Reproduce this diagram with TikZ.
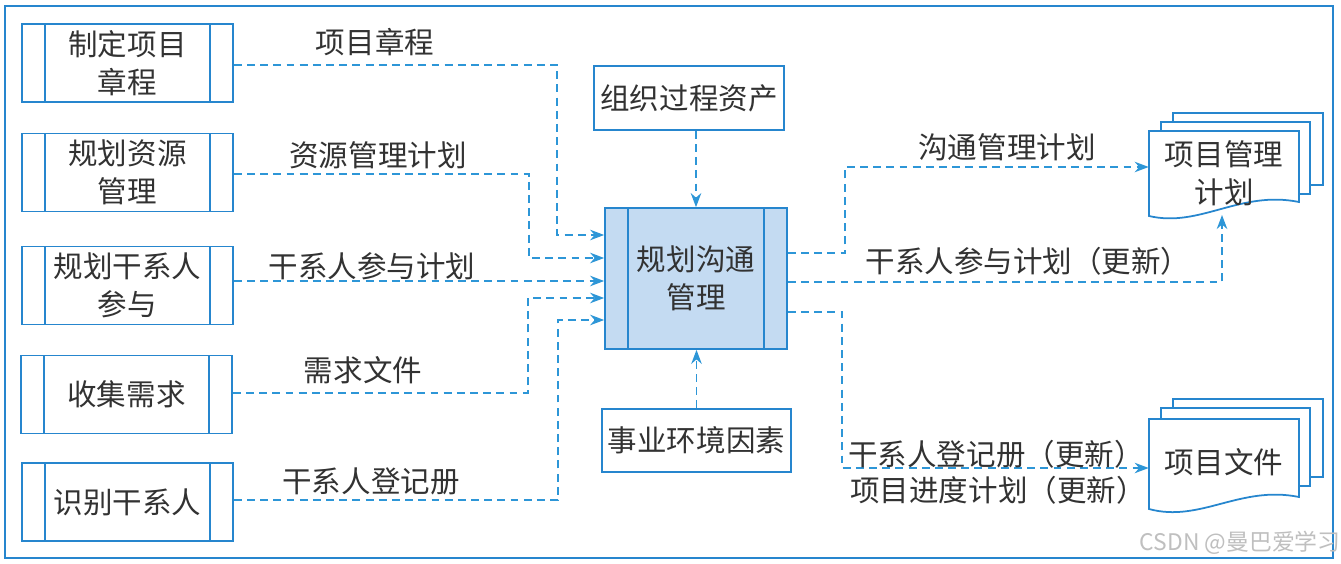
\documentclass[tikz,border=0pt]{standalone}
\usepackage{fontspec}
\setmainfont{Noto Sans CJK SC}
\usetikzlibrary{arrows.meta,calc}
\definecolor{boxblue}{RGB}{38,134,206}
\definecolor{lineblue}{RGB}{45,150,215}
\definecolor{cfill}{RGB}{196,219,242}
\definecolor{txt}{RGB}{50,50,50}
\begin{document}
\begin{tikzpicture}[x=0.02cm,y=-0.02cm,
  font=\fontsize{16.8}{21.5}\selectfont, text=txt,
  box/.style={draw=boxblue,line width=1pt,fill=white,align=center,inner sep=0pt},
  sidelines/.style={path picture={\draw[boxblue,line width=1pt]
     ([xshift=0.46cm]path picture bounding box.north west) -- ([xshift=0.46cm]path picture bounding box.south west)
     ([xshift=-0.46cm]path picture bounding box.north east) -- ([xshift=-0.46cm]path picture bounding box.south east);}},
  proc/.style={box,sidelines,minimum width=4.22cm,minimum height=1.56cm},
  flow/.style={draw=lineblue,line width=0.8pt,dash pattern=on 4.5pt off 3pt,-{Stealth[length=8pt,width=6pt]}},
  doc/.style={draw=boxblue,line width=1pt,fill=white},
  lab/.style={inner sep=0pt}]
\useasboundingbox (0,0) rectangle (1341,564);
\fill[white] (0,0) rectangle (1341,564);
\draw[boxblue,line width=1pt] (5,6) rectangle (1333,558);

% left process boxes
\node[proc] (b1) at (127.5,63) {制定项目\\章程};
\node[proc] (b2) at (127.5,172.5) {规划资源\\管理};
\node[proc] (b3) at (127.5,285.5) {规划干系人\\参与};
\node[proc] (b4) at (126.5,394.5) {收集需求};
\node[proc] (b5) at (127.5,502) {识别干系人};

% centre process
\node[box,sidelines,fill=cfill,minimum width=3.64cm,minimum height=2.82cm] (c) at (696,278.5) {规划沟通\\管理};

% top / bottom inputs
\node[box,minimum width=3.8cm,minimum height=1.28cm] (opa) at (689,98) {组织过程资产};
\node[box,minimum width=3.78cm,minimum height=1.26cm] (eef) at (696.5,440.5) {事业环境因素};

% output documents
\draw[doc] (1173,113) rectangle (1323,185);
\draw[doc] (1161,122) rectangle (1310,194);
\draw[doc] (1149,131) -- (1299,131) -- (1299,202) .. controls (1240,190) and (1200,228) .. (1149,216) -- cycle;
\node[lab,align=center,minimum width=3cm,minimum height=1.7cm] (pmp) at (1224,173.5) {项目管理\\计划};

\draw[doc] (1173,399) rectangle (1323,477);
\draw[doc] (1161,408) rectangle (1310,486);
\draw[doc] (1149,419) -- (1299,419) -- (1299,497) .. controls (1240,485) and (1200,523) .. (1149,509) -- cycle;
\node[lab,minimum width=3cm,minimum height=1.8cm] (pd) at (1224,462) {项目文件};

% input flows
\draw[flow] (b1.east|-0,65) -| (557,235) -- (c.west|-0,235);
\draw[flow] (b2.east|-0,174) -| (529,258) -- (c.west|-0,258);
\draw[flow] (b3.east|-0,281) -- (c.west|-0,281);
\draw[flow] (b4.east|-0,393) -| (528,298) -- (c.west|-0,298);
\draw[flow] (b5.east|-0,500) -| (558,320) -- (c.west|-0,320);
\draw[flow] (c.north|-opa.south) -- (c.north);
\draw[flow] (eef.north) -- (eef.north|-c.south);

% output flows
\draw[flow] (c.east|-0,253) -| (845,167) -- (pmp.west|-0,167);
\draw[flow] (c.east|-0,282) -| (1222,215);
\draw[flow] (c.east|-0,312) -| (842,468) -- (pd.west|-0,468);

% labels
\node[lab] (l1) at (375,42) {项目章程};
\node[lab] (l2) at (378,155) {资源管理计划};
\node[lab] (l3) at (372,266) {干系人参与计划};
\node[lab] (l4) at (363,370) {需求文件};
\node[lab] (l5) at (371,481) {干系人登记册};
\node[lab] (l6) at (1007,147) {沟通管理计划};
\node[lab] (l7) at (1028,261) {干系人参与计划（更新）};
\node[lab] (l8) at (996,454) {干系人登记册（更新）};
\node[lab] (l9) at (998,490) {项目进度计划（更新）};

\node[lab,anchor=east,text=black!25,font=\fontsize{13}{13}\selectfont] (wm) at (1341,543) {CSDN @曼巴爱学习};
\end{tikzpicture}
\end{document}
